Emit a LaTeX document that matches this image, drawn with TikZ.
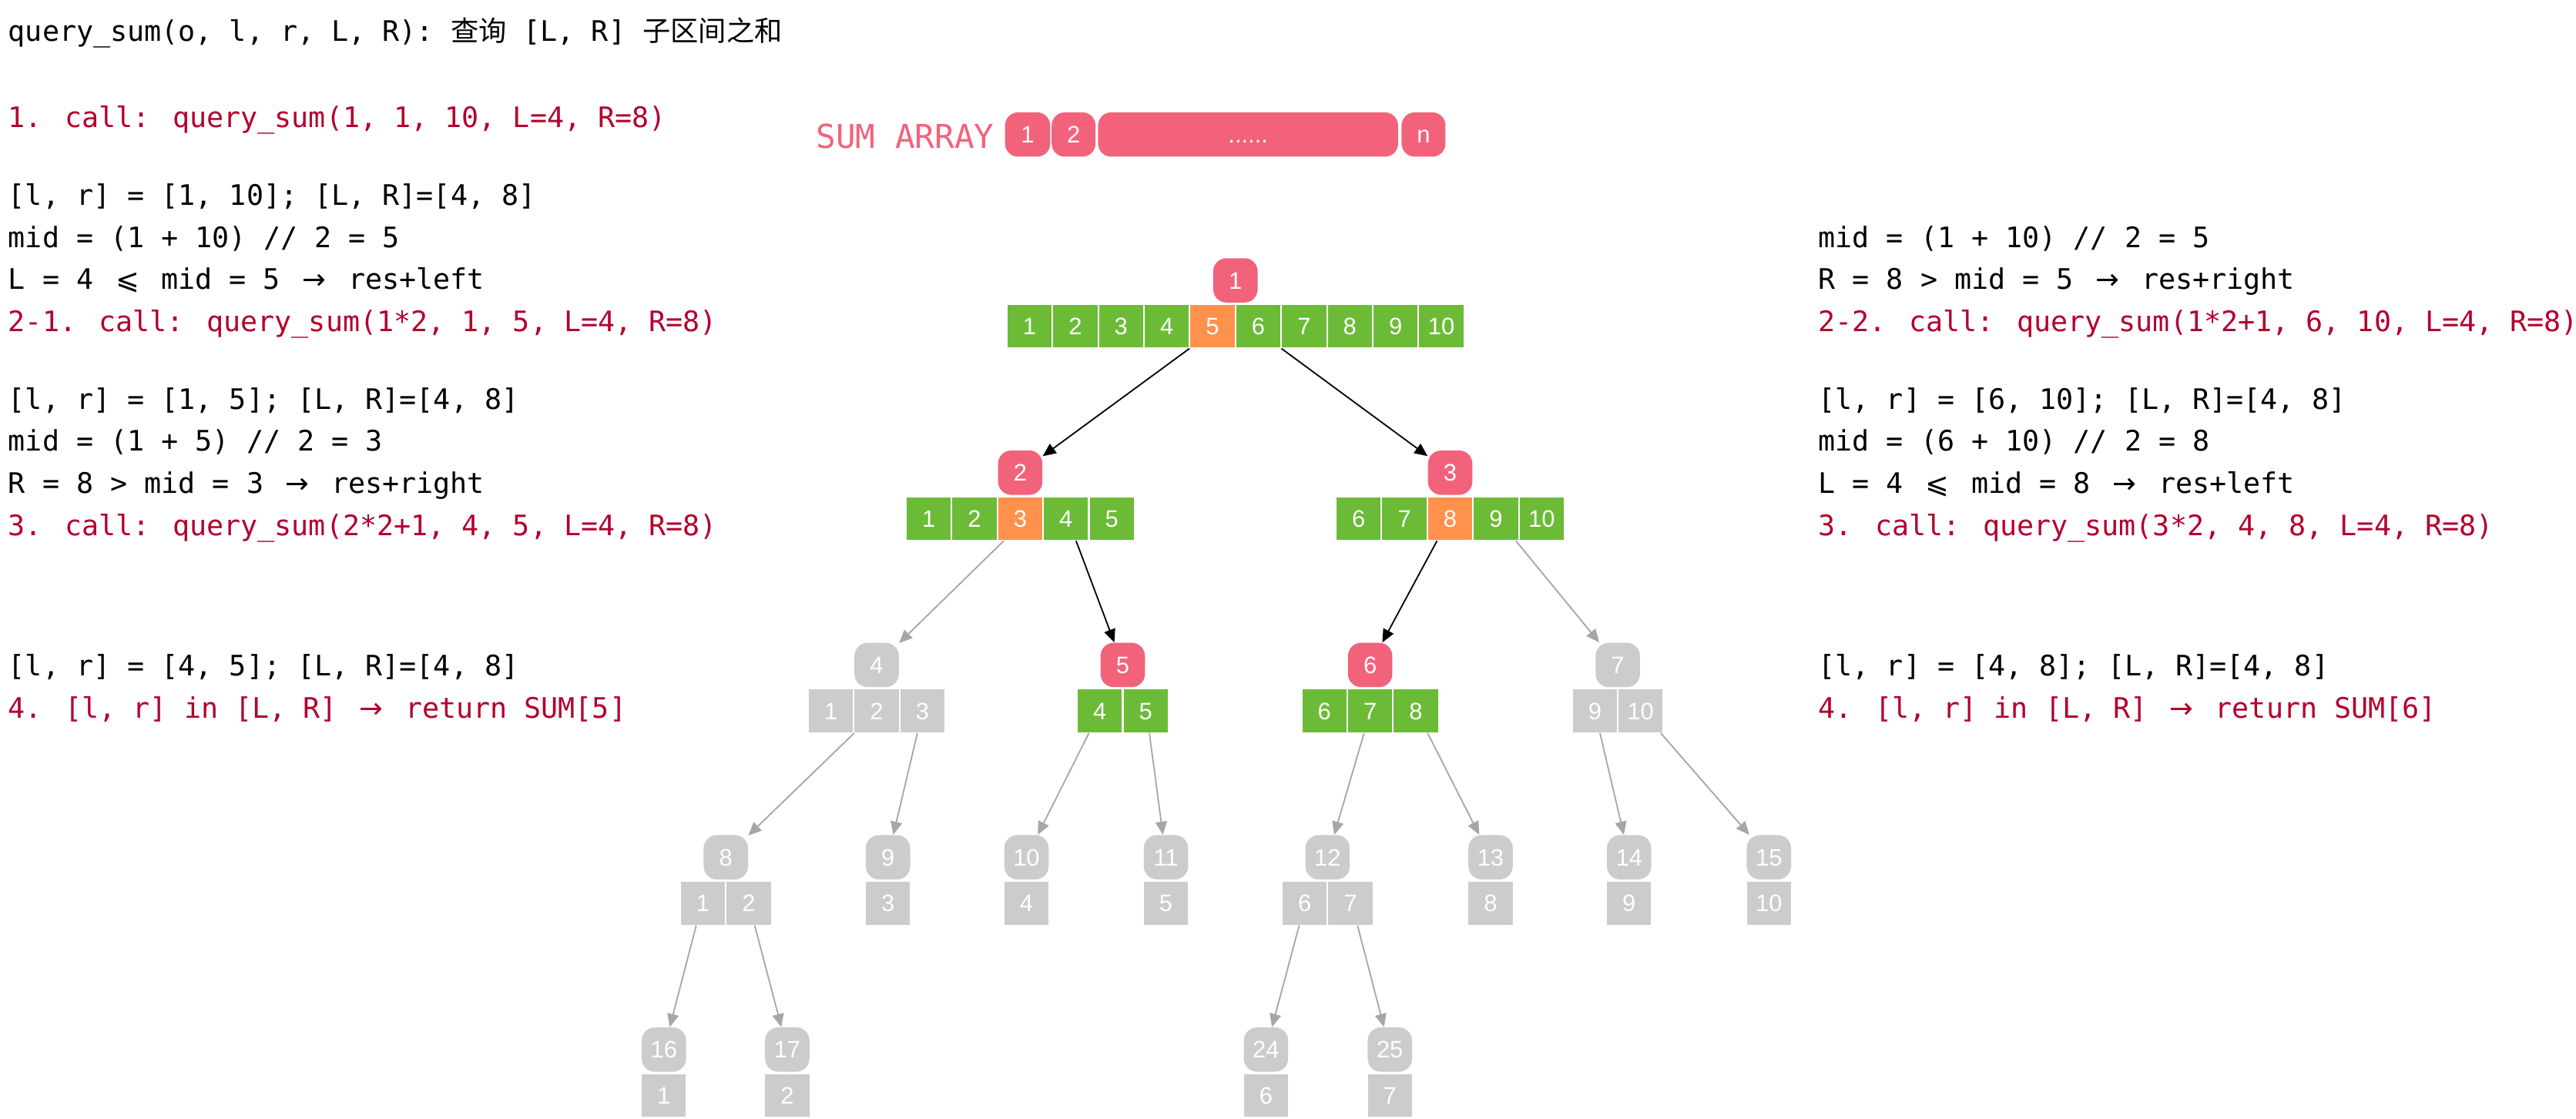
\documentclass[tikz,border=0pt]{standalone}
\usepackage{fontspec}
\setmainfont{Liberation Sans}
\IfFontExistsTF{FiraMono-Regular.otf}
  {\newfontfamily\monofam{FiraMono-Regular.otf}}
  {\newfontfamily\monofam{DejaVu Sans Mono}}
\newfontfamily\symfam{DejaVu Sans}
\newfontfamily\cjkfam{Noto Sans CJK SC}
\usetikzlibrary{arrows.meta,calc}
\definecolor{pinkc}{HTML}{F2637B}
\definecolor{greenc}{HTML}{6BBB37}
\definecolor{orangec}{HTML}{FF914D}
\definecolor{grayc}{HTML}{CCCCCC}
\definecolor{edgegray}{HTML}{A6A6A6}
\definecolor{redtext}{HTML}{B3002D}
\newcommand\dwide[1]{\hbox to 20.64pt{\hss{\symfam #1}\hss}}
\begin{document}
\begin{tikzpicture}[x=1pt,y=-1pt,
  idxbox/.style={rounded corners=8pt,minimum width=27pt,minimum height=27pt,inner sep=0pt,
    text=white,text height=10.4pt,text depth=0pt,font=\fontsize{14.5}{14.5}\selectfont},
  cellbox/.style={minimum width=27.85pt,minimum height=27pt,inner sep=0pt,draw=white,line width=1pt,
    text=white,text height=10.4pt,text depth=0pt,font=\fontsize{14.5}{14.5}\selectfont},
  arrbox/.style={minimum height=27pt,inner sep=0pt,outer sep=0pt},
  edgeline/.style={-{Triangle[length=8pt,width=7pt]},line width=0.85pt},
  codetext/.style={anchor=base west,inner sep=0pt,font=\monofam\fontsize{17.2}{20}\selectfont},
  calltext/.style={codetext,text=redtext}]
\fill[white] (0,0) rectangle (1568,680.84);
\useasboundingbox (0,0) rectangle (1568,680.84);

% ---------- left column text ----------
\node[codetext] (h0) at (4.9,25) {query\_sum(o, l, r, L, R): {\cjkfam\fontsize{17}{20}\selectfont 查询} [L, R] {\cjkfam\fontsize{17}{20}\selectfont 子区间之和}};
\node[calltext] (l1) at (4.9,77.4) {1. call: query\_sum(1, 1, 10, L=4, R=8)};
\node[codetext] (l2) at (4.9,125) {[l, r] = [1, 10]; [L, R]=[4, 8]};
\node[codetext] (l3) at (4.9,150.6) {mid = (1 + 10) // 2 = 5};
\node[codetext] (l4) at (4.9,176.2) {L = 4 \dwide{⩽} mid = 5 \dwide{→} res+left};
\node[calltext] (l5) at (4.9,201.8) {2-1. call: query\_sum(1*2, 1, 5, L=4, R=8)};
\node[codetext] (l6) at (4.9,249.1) {[l, r] = [1, 5]; [L, R]=[4, 8]};
\node[codetext] (l7) at (4.9,274.7) {mid = (1 + 5) // 2 = 3};
\node[codetext] (l8) at (4.9,300.3) {R = 8 > mid = 3 \dwide{→} res+right};
\node[calltext] (l9) at (4.9,326) {3. call: query\_sum(2*2+1, 4, 5, L=4, R=8)};
\node[codetext] (l10) at (4.9,411.6) {[l, r] = [4, 5]; [L, R]=[4, 8]};
\node[calltext] (l11) at (4.9,437.3) {4. [l, r] in [L, R] \dwide{→} return SUM[5]};

% ---------- right column text ----------
\node[codetext] (r1) at (1106.7,150.6) {mid = (1 + 10) // 2 = 5};
\node[codetext] (r2) at (1106.7,176.2) {R = 8 > mid = 5 \dwide{→} res+right};
\node[calltext] (r3) at (1106.7,201.8) {2-2. call: query\_sum(1*2+1, 6, 10, L=4, R=8)};
\node[codetext] (r4) at (1106.7,249.1) {[l, r] = [6, 10]; [L, R]=[4, 8]};
\node[codetext] (r5) at (1106.7,274.7) {mid = (6 + 10) // 2 = 8};
\node[codetext] (r6) at (1106.7,300.3) {L = 4 \dwide{⩽} mid = 8 \dwide{→} res+left};
\node[calltext] (r7) at (1106.7,326) {3. call: query\_sum(3*2, 4, 8, L=4, R=8)};
\node[codetext] (r8) at (1106.7,411.6) {[l, r] = [4, 8]; [L, R]=[4, 8]};
\node[calltext] (r9) at (1106.7,437.3) {4. [l, r] in [L, R] \dwide{→} return SUM[6]};

% ---------- SUM ARRAY ----------
\node[anchor=base west,inner sep=0pt,text=pinkc,font=\monofam\fontsize{20}{20}\selectfont] (sumlbl) at (496.6,90.3) {SUM ARRAY};
\node[idxbox,fill=pinkc,minimum width=27.5pt] (s1) at (625.5,81.9) {1};
\node[idxbox,fill=pinkc,minimum width=26.7pt] (s2) at (653.5,81.9) {2};
\node[idxbox,fill=pinkc,minimum width=182.6pt] (sdots) at (759.7,81.9) {......};
\node[idxbox,fill=pinkc,minimum width=26.7pt] (sn) at (866.5,81.9) {n};

% ---------- tree ----------
% id / x / level / node colour / first value / count / cell colour / orange value
\foreach \id/\cx/\lv/\nc/\sv/\cnt/\cc/\orng in {
  1/752/0/pinkc/1/10/greenc/5,
  2/621/1/pinkc/1/5/greenc/3,
  3/882.7/1/pinkc/6/5/greenc/8,
  4/533.6/2/grayc/1/3/grayc/0,
  5/683.4/2/pinkc/4/2/greenc/0,
  6/834/2/pinkc/6/3/greenc/0,
  7/984.7/2/grayc/9/2/grayc/0,
  8/441.8/3/grayc/1/2/grayc/0,
  9/540.5/3/grayc/3/1/grayc/0,
  10/624.8/3/grayc/4/1/grayc/0,
  11/709.7/3/grayc/5/1/grayc/0,
  12/808.1/3/grayc/6/2/grayc/0,
  13/907.3/3/grayc/8/1/grayc/0,
  14/991.6/3/grayc/9/1/grayc/0,
  15/1076.7/3/grayc/10/1/grayc/0,
  16/404.1/4/grayc/1/1/grayc/0,
  17/479.2/4/grayc/2/1/grayc/0,
  24/770.6/4/grayc/6/1/grayc/0,
  25/846/4/grayc/7/1/grayc/0}{
  \pgfmathsetmacro\ty{185.2+117.08*\lv}
  \node[idxbox,fill=\nc] (n\id) at (\cx,\ty-14.5) {\id};
  \node[arrbox,minimum width=\cnt*27.85pt] (a\id) at (\cx,\ty+13.5) {};
  \foreach \k in {1,...,\cnt}{
    \pgfmathtruncatemacro\val{\sv+\k-1}
    \edef\fillc{\ifnum\val=\orng orangec\else\cc\fi}
    \node[cellbox,fill=\fillc] (c\id-\k) at ({\cx+(\k-0.5-\cnt/2)*27.85},\ty+13.5) {\val};
  }
}

% ---------- edges ----------
\foreach \p/\ch/\dx/\ec in {
  1/2/-28/black, 1/3/28/black,
  2/4/-10/edgegray, 2/5/34/black,
  3/6/-8/black, 3/7/40/edgegray,
  4/8/-13.7/edgegray, 4/9/24.8/edgegray,
  5/10/-20.6/edgegray, 5/11/16.2/edgegray,
  6/12/-3.7/edgegray, 6/13/35/edgegray,
  7/14/-10.8/edgegray, 7/15/26.2/edgegray,
  8/16/-18/edgegray, 8/17/17.6/edgegray,
  12/24/-17.3/edgegray, 12/25/18.2/edgegray}{
  \draw[edgeline,\ec] ([xshift=\dx pt]a\p.south) -- (n\ch);
}
\end{tikzpicture}
\end{document}
